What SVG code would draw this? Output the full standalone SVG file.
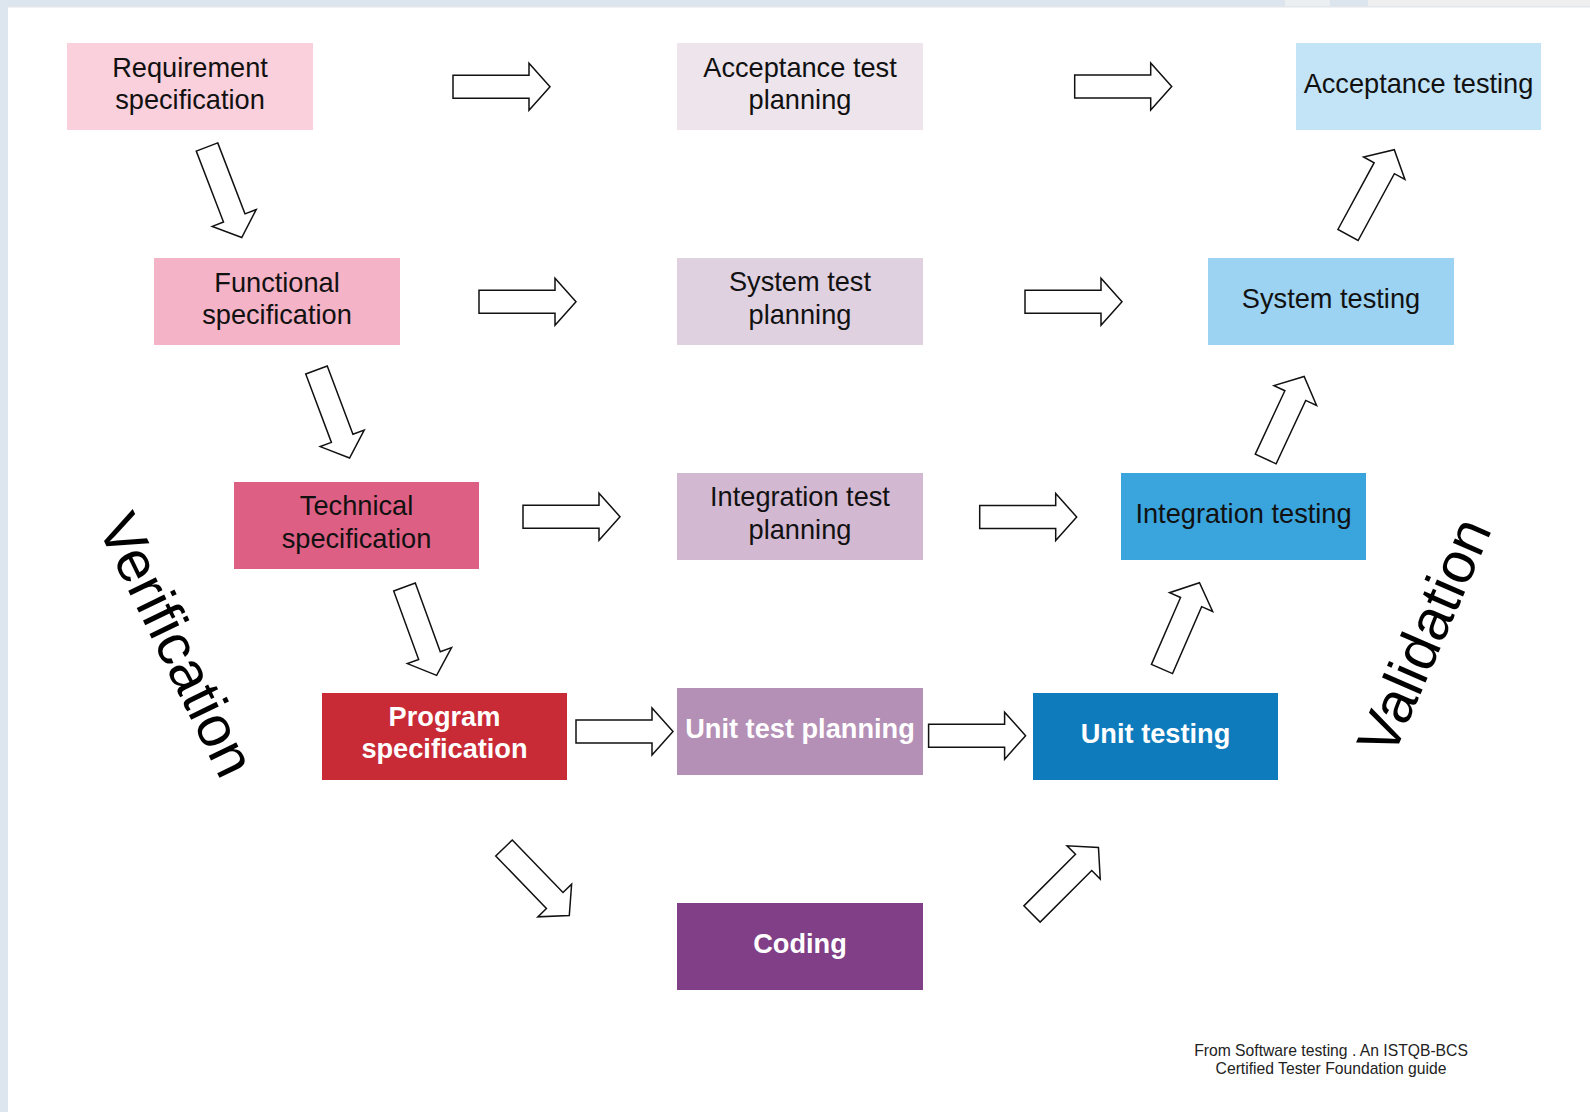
<svg xmlns="http://www.w3.org/2000/svg" xmlns:xlink="http://www.w3.org/1999/xlink" width="1590" height="1112" viewBox="0 0 1590 1112">
<style>
.lbl{font-family:"Liberation Sans",Arial,sans-serif;font-size:27.2px;fill:#111;text-anchor:middle}
.wl{fill:#fff;font-weight:bold}
.side{font-family:"Liberation Sans",Arial,sans-serif;font-size:58px;fill:#000;text-anchor:middle}
.note{font-family:"Liberation Sans",Arial,sans-serif;font-size:15.7px;fill:#222;text-anchor:middle}
.arr{fill:#fff;stroke:#111;stroke-width:1.5;stroke-linejoin:miter}
</style>
<defs>
<path id="ah" d="M0,-11.5 H76 V-23.5 L97,0 L76,23.5 V11.5 H0 Z"/>
<path id="ad" d="M0,-11.5 H73 V-23.5 L94,0 L73,23.5 V11.5 H0 Z"/>
<path id="as" d="M0,-11.5 H70 V-23.5 L91,0 L70,23.5 V11.5 H0 Z"/>
</defs>
<rect x="0" y="0" width="1590" height="1112" fill="#fff"/>
<g id="frame">
<rect x="0" y="0" width="1590" height="7" fill="#dce4ee"/>
<rect x="1285" y="0" width="45" height="7" fill="#eceff2"/>
<rect x="1368" y="0" width="222" height="7" fill="#efefef"/>
<rect x="0" y="6" width="1590" height="1.5" fill="#e2e6ea"/>
<rect x="0" y="0" width="8" height="1112" fill="#dde5ee"/>
</g>

<g id="connectors">
<use href="#ah" class="arr" transform="translate(453,86.7)"/>
<use href="#ah" class="arr" transform="translate(1074.7,86.5)"/>
<use href="#ah" class="arr" transform="translate(479,301.7)"/>
<use href="#ah" class="arr" transform="translate(1025,301.7)"/>
<use href="#ah" class="arr" transform="translate(523,516.7)"/>
<use href="#ah" class="arr" transform="translate(979.7,517)"/>
<use href="#ah" class="arr" transform="translate(576,731.5)"/>
<use href="#ah" class="arr" transform="translate(928.6,735.7)"/>
<use href="#ah" class="arr" transform="translate(207,147) rotate(69)"/>
<use href="#ad" class="arr" transform="translate(316.5,370) rotate(69.4)"/>
<use href="#ad" class="arr" transform="translate(404.5,587) rotate(70)"/>
<use href="#ad" class="arr" transform="translate(504,848) rotate(46)"/>
<use href="#ad" class="arr" transform="translate(1032,914) rotate(-45)"/>
<use href="#ad" class="arr" transform="translate(1162,669) rotate(-66.5)"/>
<use href="#as" class="arr" transform="translate(1265.7,459) rotate(-65)"/>
<use href="#ah" class="arr" transform="translate(1348,235) rotate(-61.5)"/>
</g>

<g id="req"><rect x="67" y="43" width="246" height="87" fill="#f9d0dc"/>
<text class="lbl" x="190" y="76.5">Requirement</text><text class="lbl" x="190" y="109">specification</text></g>
<g id="func"><rect x="154" y="258" width="246" height="87" fill="#f4b3c6"/>
<text class="lbl" x="277" y="291.5">Functional</text><text class="lbl" x="277" y="324">specification</text></g>
<g id="tech"><rect x="234" y="482" width="245" height="87" fill="#de5f84"/>
<text class="lbl" x="356.5" y="515">Technical</text><text class="lbl" x="356.5" y="547.5">specification</text></g>
<g id="prog"><rect x="322" y="693" width="245" height="87" fill="#c82a36"/>
<text class="lbl wl" x="444.5" y="725.5">Program</text><text class="lbl wl" x="444.5" y="758">specification</text></g>

<g id="accplan"><rect x="677" y="43" width="246" height="87" fill="#ede4ec"/>
<text class="lbl" x="800" y="76.5">Acceptance test</text><text class="lbl" x="800" y="109">planning</text></g>
<g id="sysplan"><rect x="677" y="258" width="246" height="87" fill="#e0d1e1"/>
<text class="lbl" x="800" y="291">System test</text><text class="lbl" x="800" y="323.5">planning</text></g>
<g id="intplan"><rect x="677" y="473" width="246" height="87" fill="#d3b8d1"/>
<text class="lbl" x="800" y="506">Integration test</text><text class="lbl" x="800" y="538.5">planning</text></g>
<g id="unitplan"><rect x="677" y="688" width="246" height="87" fill="#b490b6"/>
<text class="lbl wl" x="800" y="738">Unit test planning</text></g>
<g id="coding"><rect x="677" y="903" width="246" height="87" fill="#803f86"/>
<text class="lbl wl" x="800" y="953">Coding</text></g>

<g id="acctest"><rect x="1296" y="43" width="245" height="87" fill="#c3e4f6"/>
<text class="lbl" x="1418.5" y="92.5">Acceptance testing</text></g>
<g id="systest"><rect x="1208" y="258" width="246" height="87" fill="#9cd2f2"/>
<text class="lbl" x="1331" y="307.5">System testing</text></g>
<g id="inttest"><rect x="1121" y="473" width="245" height="87" fill="#3aa4dd"/>
<text class="lbl" x="1243.5" y="522.5">Integration testing</text></g>
<g id="unittest"><rect x="1033" y="693" width="245" height="87" fill="#0e7bbd"/>
<text class="lbl wl" x="1155.5" y="742.5">Unit testing</text></g>

<g id="verification"><text class="side" transform="translate(177,645) rotate(64)" dy="20">Verification</text></g>
<g id="validation"><text class="side" transform="translate(1424,636) rotate(-66.5)" dy="20">Validation</text></g>

<g id="footnote">
<text class="note" x="1331" y="1055.5">From Software testing . An ISTQB-BCS</text>
<text class="note" x="1331" y="1074">Certified Tester Foundation guide</text>
</g>
</svg>
